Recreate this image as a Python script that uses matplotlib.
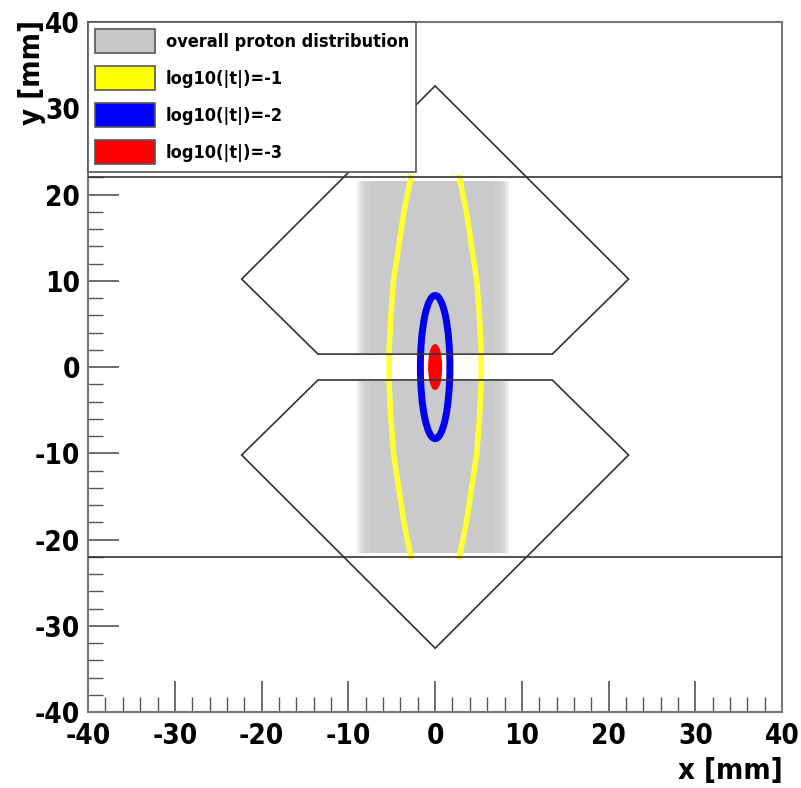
import matplotlib.pyplot as plt
import numpy as np
from matplotlib.patches import Polygon, Patch, Ellipse, Rectangle
from matplotlib.ticker import MultipleLocator

plt.rcParams['font.family'] = ['DejaVu Sans']
plt.rcParams['font.stretch'] = 'condensed'
plt.rcParams['font.weight'] = 'bold'
plt.rcParams['axes.unicode_minus'] = False

# detector outline (upper pot, lower is mirrored)
pot_x = [-13.5, -22.3, 0.0, 22.3, 13.5]
pot_y = [1.5, 10.2, 32.6, 10.2, 1.5]
cut_y = 22.0  # horizontal lines

# proton distribution band
band_x = (-8.0, 7.5)
band_y = (1.6, 21.6)

# contour curves for log10(|t|) = -1 (yellow): half width vs y
yellow_y = [-22.0, -18.0, -14.0, -10.0, -6.0, -2.0, 0.0, 2.0, 6.0, 10.0, 14.0, 18.0, 22.0]
yellow_w = [2.8, 3.6, 4.2, 4.8, 5.1, 5.3, 5.3, 5.3, 5.1, 4.8, 4.2, 3.6, 2.8]

# ellipses (x semi-axis, y semi-axis)
blue_ax = (1.7, 8.3)
red_ax = (0.65, 2.5)

legend_labels = ['overall proton distribution', 'log10(|t|)=-1', 'log10(|t|)=-2', 'log10(|t|)=-3']
legend_colors = ['#c8c8c8', '#ffff00', '#0000ff', '#ff0000']

fig = plt.figure(figsize=(8.01, 7.88), dpi=100)
ax = fig.add_axes([0.110, 0.0964, 0.8665, 0.8756])
ax.set_xlim(-40, 40)
ax.set_ylim(-40, 40)

# gray band with soft edges, above and below the gap
for sgn in (1, -1):
    y0, y1 = sorted([sgn * band_y[0], sgn * band_y[1]])
    for k in np.linspace(1.0, 0.0, 8):
        ax.add_patch(Rectangle((band_x[0] - k, y0), band_x[1] - band_x[0] + 2 * k, y1 - y0,
                               facecolor='#cacacd', edgecolor='none', alpha=0.22, zorder=1))
    ax.add_patch(Rectangle((band_x[0] + 0.6, y0), band_x[1] - band_x[0] - 1.2, y1 - y0,
                           facecolor='#cacacd', edgecolor='none', zorder=1))

# yellow contour
yy = np.array(yellow_y)
ww = np.array(yellow_w)
ax.plot(-ww, yy, color='#ffff33', lw=4, zorder=3)
ax.plot(ww, yy, color='#ffff33', lw=4, zorder=3)

ax.add_patch(Ellipse((0, 0), 2 * blue_ax[0], 2 * blue_ax[1], facecolor='none',
                     edgecolor='#0000ee', lw=5, zorder=4))
ax.add_patch(Ellipse((0, 0), 2 * red_ax[0], 2 * red_ax[1], facecolor='#ff0000',
                     edgecolor='#ff0000', lw=2, zorder=5))

# detector outlines
for sgn in (1, -1):
    pts = np.column_stack([pot_x, sgn * np.array(pot_y)])
    ax.add_patch(Polygon(pts, closed=True, fill=False, edgecolor='#333333', lw=1.2, zorder=6))
ax.axhline(cut_y, color='#333333', lw=1.2, zorder=6)
ax.axhline(-cut_y, color='#333333', lw=1.2, zorder=6)

# axes styling (ROOT-like)
ax.xaxis.set_major_locator(MultipleLocator(10))
ax.xaxis.set_minor_locator(MultipleLocator(2))
ax.yaxis.set_major_locator(MultipleLocator(10))
ax.yaxis.set_minor_locator(MultipleLocator(2))
ax.tick_params(which='major', direction='in', length=22, width=1.2, color='#555555',
               labelsize=20, top=False, right=False)
ax.tick_params(axis='x', which='major', pad=7)
ax.tick_params(axis='y', which='major', pad=6)
ax.tick_params(which='minor', direction='in', length=11, width=1.0, color='#555555',
               top=False, right=False)
for lab in ax.get_xticklabels() + ax.get_yticklabels():
    lab.set_fontweight('bold')
for sp in ax.spines.values():
    sp.set_color('#777777')
    sp.set_linewidth(1.5)

fig.text(0.977, 0.004, 'x [mm]', ha='right', va='bottom', fontsize=21, fontweight='bold')
fig.text(0.022, 0.975, 'y [mm]', ha='left', va='top', rotation=90, fontsize=21, fontweight='bold')

handles = [Patch(facecolor=c, edgecolor='#555555', lw=1.2) for c in legend_colors]
leg = ax.legend(handles, legend_labels, loc='upper left', bbox_to_anchor=(0.0, 1.0),
                prop={'size': 13, 'weight': 'bold', 'stretch': 'condensed'},
                handlelength=3.3, handleheight=1.67, labelspacing=0.72, borderpad=0.4,
                handletextpad=0.6, fancybox=False, framealpha=1, edgecolor='#555555',
                borderaxespad=0)
leg.get_frame().set_linewidth(1.2)
leg.set_zorder(10)

fig.savefig('out.png', dpi=100)
